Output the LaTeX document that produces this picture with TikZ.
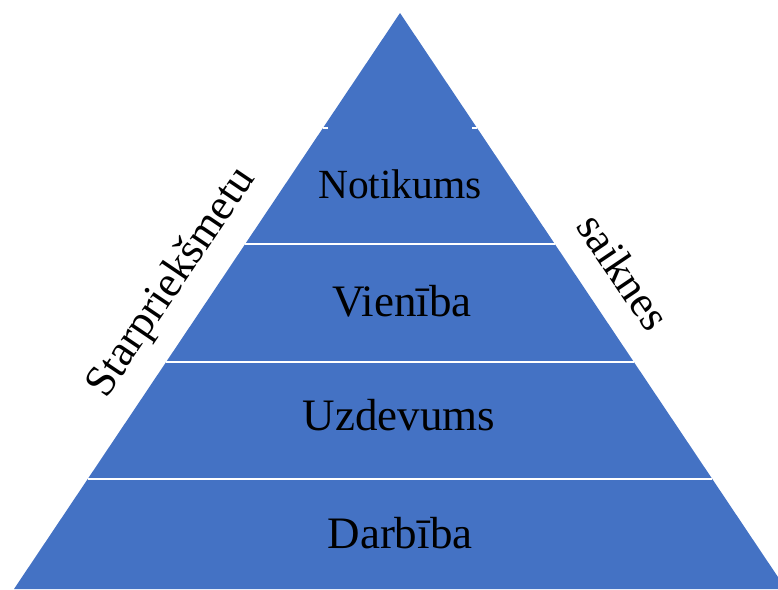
\documentclass[tikz,border=0pt]{standalone}
\usepackage{fontspec}
\setmainfont{Liberation Serif}
\usetikzlibrary{calc}
\definecolor{pyrblue}{HTML}{4472C4}
\tikzset{
  level/.style={font=\fontsize{45}{54}\selectfont, text=black, inner sep=0pt, anchor=base},
  sidelabel/.style={font=\fontsize{44}{52}\selectfont, text=black, inner sep=0pt},
  divider/.style={draw=white, line width=2pt},
  tick/.style={draw=white, line width=1.2pt}
}
\begin{document}
\begin{tikzpicture}[x=1pt,y=-1pt]
\useasboundingbox (0,0) rectangle (778,589);
\clip (0,0) rectangle (778,589);
% outline of the pyramid
\coordinate (apex) at (400,13);
\coordinate (bl) at (14,589);
\coordinate (br) at (786,589);
\fill[pyrblue] (apex) -- (bl) -- (br) -- cycle;
% band dividers
\draw[divider] ($(apex)!0.401!(bl)$) -- ($(apex)!0.401!(br)$);
\draw[divider] ($(apex)!0.606!(bl)$) -- ($(apex)!0.606!(br)$);
\draw[divider] ($(apex)!0.809!(bl)$) -- ($(apex)!0.809!(br)$);
% faint marks of the top band
\draw[tick] ($(apex)!0.1997!(bl)$) -- ++(5,0);
\draw[tick] ($(apex)!0.1997!(br)$) -- ++(-5,0);
% level names
\node[level, font=\fontsize{41.5}{50}\selectfont] (notikums) at (400,198) {Notikums};
\node[level] (vieniba) at (402,316) {Vienība};
\node[level] (uzdevums) at (399,430) {Uzdevums};
\node[level] (darbiba) at (400,548) {Darbība};
% labels along the sides
\node[sidelabel, rotate=56] (left) at (172,283) {Starpriekšmetu};
\node[sidelabel, rotate=-56] (right) at (624,272) {saiknes};
\end{tikzpicture}
\end{document}
